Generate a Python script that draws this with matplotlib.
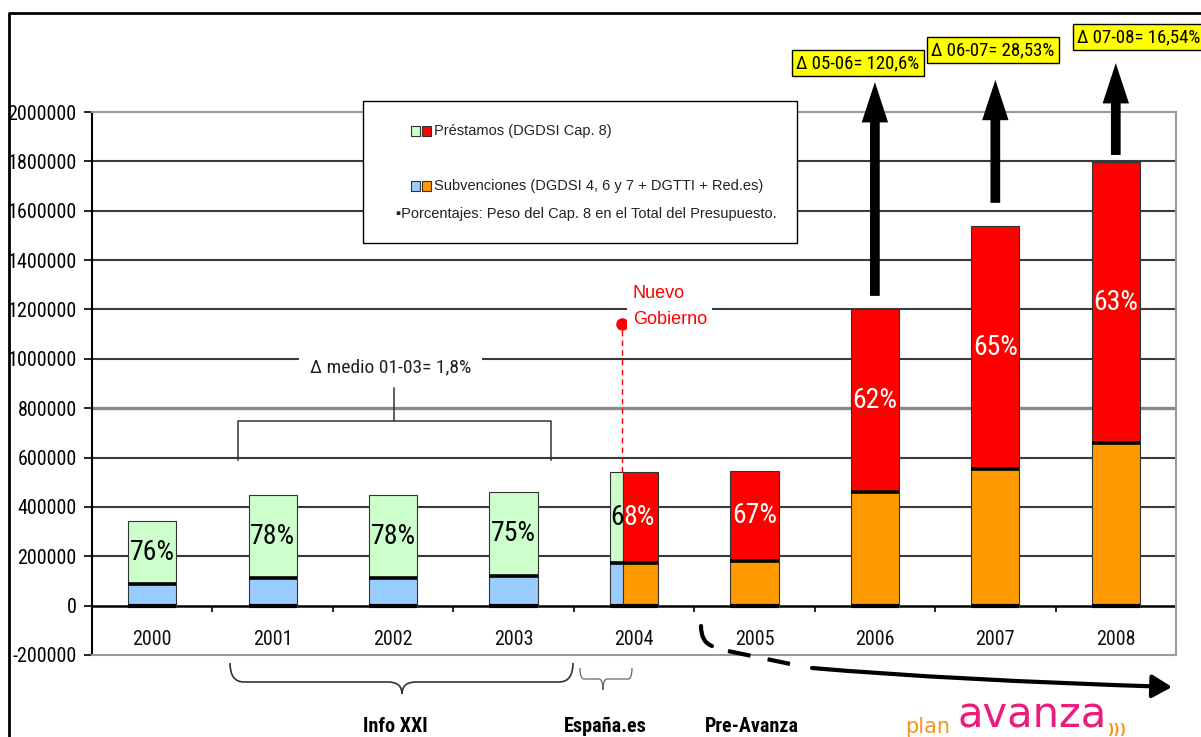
import matplotlib
matplotlib.use('Agg')
import matplotlib.pyplot as plt
import matplotlib.font_manager as fm
import numpy as np
from matplotlib.patches import Rectangle, FancyArrowPatch, PathPatch
from matplotlib.path import Path

W, H = 1201, 737

# ---------------- data ----------------
years = ['2000', '2001', '2002', '2003', '2004', '2005', '2006', '2007', '2008']
subvenciones = [88000, 113000, 110000, 121000, 174000, 182000, 459000, 553000, 660000]
prestamos = [255000, 336000, 339000, 340000, 368000, 365000, 741000, 985000, 1138000]
pct_labels = ['76%', '78%', '78%', '75%', '68%', '67%', '62%', '65%', '63%']
yticks = list(range(-200000, 2000001, 200000))

delta_years = ['2006', '2007', '2008']
delta_labels = ['\u0394 05-06= 120,6%', '\u0394 06-07= 28,53%', '\u0394 07-08= 16,54%']
arrow_tail = [1255000, 1632000, 1826000]
arrow_head = [2121000, 2130000, 2198000]

avg_label = '\u0394 medio 01-03= 1,8%'
gov_label = 'Nuevo\nGobierno'
legend_prestamos = 'Pr\u00e9stamos (DGDSI Cap. 8)'
legend_subv = 'Subvenciones (DGDSI 4, 6 y 7 + DGTTI + Red.es)'
legend_note = '\u25aaPorcentajes: Peso del Cap. 8 en el Total del Presupuesto.'
periods = ['Info XXI', 'Espa\u00f1a.es', 'Pre-Avanza']

# ---------------- fonts ----------------
def _w(f):
    try:
        return int(f.weight)
    except Exception:
        return 700 if 'bold' in str(f.weight).lower() else 400


def find_narrow(bold=False):
    prefs = ['Liberation Sans Narrow', 'Arial Narrow', 'Roboto Condensed', 'Open Sans Condensed',
             'Noto Sans Condensed', 'DejaVu Sans Condensed']
    cands = []
    for f in fm.fontManager.ttflist:
        nm = f.name
        st = str(f.stretch).lower()
        narrow = ('Narrow' in nm or 'Condensed' in nm or 'condensed' in st
                  or 'Condensed' in f.fname or 'Narrow' in f.fname)
        if not narrow or 'italic' in str(f.style).lower() or 'Oblique' in f.fname or 'Italic' in f.fname:
            continue
        w = _w(f)
        if bold and w < 600:
            continue
        if not bold and not (350 <= w <= 500):
            continue
        rank = len(prefs)
        for k, p in enumerate(prefs):
            if p.lower() in nm.lower() or p.replace(' ', '').lower() in f.fname.replace(' ', '').lower():
                rank = k
                break
        if 'DejaVuSansCondensed' in f.fname.replace('-', ''):
            rank = min(rank, len(prefs) - 1)
        cands.append((rank, f.fname))
    if cands:
        cands.sort()
        return fm.FontProperties(fname=cands[0][1]), True
    return fm.FontProperties(family=['Liberation Sans', 'DejaVu Sans'],
                             weight='bold' if bold else 'normal'), False


NARROW_FP, HAVE_NARROW = find_narrow(False)
NARROW_B_FP, _ = find_narrow(True)
SCALE = 1.0 if HAVE_NARROW else 0.85
SANS = ['Liberation Sans', 'DejaVu Sans']


def nfp(size, bold=False):
    fp = (NARROW_B_FP if bold else NARROW_FP).copy()
    fp.set_size(size * SCALE)
    return fp


# ---------------- style ----------------
OLD_P, OLD_S = '#CCFFCC', '#99CCFF'
NEW_P, NEW_S = '#FF0000', '#FF9900'
TRANSITION = 4          # index of the split bar (2004)
SPLIT_FRAC = 0.28       # share of the 2004 bar drawn in old colours
BW = 0.4
PCT_SIZE = 20

fig = plt.figure(figsize=(W / 100, H / 100), dpi=100)
ax = fig.add_axes([92 / W, 1 - 655 / H, (1176 - 92) / W, (655 - 112) / H])
n = len(years)
ax.set_xlim(-0.5, n - 0.5)
ax.set_ylim(-200000, 2000000)

for v in yticks:
    if v in (-200000, 2000000, 0):
        continue
    if v == 800000:
        ax.axhline(v, color='#8a8a8a', lw=2.4, zorder=0)
    else:
        ax.axhline(v, color='#3a3a3a', lw=1.5, zorder=0)
ax.axhline(0, color='black', lw=1.8, zorder=1)

ax.set_yticks(yticks)
ax.set_yticklabels([str(v) for v in yticks])
for lab in ax.get_yticklabels():
    lab.set_fontproperties(nfp(14.5))
ax.tick_params(axis='y', direction='out', length=6, width=1.2, pad=5, colors='black')
ax.set_xticks([])
for s in ('top', 'right', 'bottom'):
    ax.spines[s].set_color('#9a9a9a')
    ax.spines[s].set_linewidth(1.5)
ax.spines['left'].set_color('black')
ax.spines['left'].set_linewidth(1.5)

ax.vlines(np.arange(0.5, n, 1.0), -25000, 0, color='black', lw=1.2, zorder=2)

for i, yr in enumerate(years):
    ax.text(i, -138000, yr, ha='center', va='center', fontproperties=nfp(14.5), color='#111')

ec = dict(edgecolor='#333333', linewidth=0.8, zorder=3)
for i in range(n):
    s, p = subvenciones[i], prestamos[i]
    label_y = s + p / 2
    if i < TRANSITION:
        ax.bar(i, s, BW, color=OLD_S, **ec)
        ax.bar(i, p, BW, bottom=s, color=OLD_P, **ec)
        ax.text(i, label_y, pct_labels[i], ha='center', va='center', fontproperties=nfp(PCT_SIZE),
                color='black', zorder=6)
    elif i == TRANSITION:
        left = i - BW / 2
        wl = BW * SPLIT_FRAC
        wr = BW - wl
        ax.bar(left, s, wl, align='edge', color=OLD_S, **ec)
        ax.bar(left, p, wl, bottom=s, align='edge', color=OLD_P, **ec)
        ax.bar(left + wl, s, wr, align='edge', color=NEW_S, **ec)
        ax.bar(left + wl, p, wr, bottom=s, align='edge', color=NEW_P, **ec)
        lab = pct_labels[i]
        ax.text(left + wl, label_y, lab[:1], ha='right', va='center', fontproperties=nfp(PCT_SIZE),
                color='black', zorder=6)
        ax.text(left + wl, label_y, lab[1:], ha='left', va='center', fontproperties=nfp(PCT_SIZE),
                color='white', zorder=6)
    else:
        ax.bar(i, s, BW, color=NEW_S, **ec)
        ax.bar(i, p, BW, bottom=s, color=NEW_P, **ec)
        ax.text(i, label_y, pct_labels[i], ha='center', va='center', fontproperties=nfp(PCT_SIZE),
                color='white', zorder=6)
    ax.hlines(s, i - BW / 2, i + BW / 2, color='black', lw=2.6, zorder=4)
    ax.hlines(0, i - BW / 2, i + BW / 2, color='black', lw=3, zorder=4)

for yr, t0, t1 in zip(delta_years, arrow_tail, arrow_head):
    i = years.index(yr)
    arr = FancyArrowPatch((i, t0), (i, t1),
                          arrowstyle='simple,head_length=29,head_width=19,tail_width=7',
                          mutation_scale=1, fc='black', ec='black', lw=0,
                          shrinkA=0, shrinkB=0, clip_on=False, zorder=7,
                          transform=ax.transData)
    ax.add_patch(arr)

bx0, bx1, bxc = 0.714, 3.31, 2.01
ax.plot([bx0, bx0, bx1, bx1], [591000, 749000, 749000, 591000], color='#333', lw=1.1, zorder=5)
ax.plot([bxc, bxc], [749000, 883000], color='#333', lw=1.1, zorder=5)
ax.text(1.98, 966000, avg_label, ha='center', va='center', fontproperties=nfp(14),
        color='#222', zorder=6,
        bbox=dict(boxstyle='square,pad=0.55', fc='white', ec='none'))

gx = 3.90
ax.plot([gx, gx], [542000, 1142000], color='red', lw=1, ls=(0, (4, 3)), zorder=5)
ax.plot([gx], [1142000], 'o', color='red', ms=8, zorder=6)
ax.text(3.99, 1212000, gov_label, ha='left', va='center', fontfamily=SANS, fontsize=13,
        color='red', linespacing=1.75, zorder=6,
        bbox=dict(boxstyle='square,pad=0.3', fc='white', ec='none'))

# ---------------- overlay in pixel coords ----------------
ov = fig.add_axes([0, 0, 1, 1], zorder=5)
ov.set_xlim(0, W)
ov.set_ylim(H, 0)
ov.axis('off')
ov.patch.set_alpha(0)

ov.plot([9, 9, W + 5], [H + 5, 13, 13], color='black', lw=2, solid_capstyle='butt')

ov.add_patch(Rectangle((363, 101), 434, 142, fc='white', ec='black', lw=1))
for (c1, c2), yy, txt in [((OLD_P, NEW_P), 131, legend_prestamos), ((OLD_S, NEW_S), 186, legend_subv)]:
    ov.add_patch(Rectangle((411, yy - 5), 9, 10, fc=c1, ec='#333', lw=0.8))
    ov.add_patch(Rectangle((422, yy - 5), 9, 10, fc=c2, ec='#333', lw=0.8))
    ov.text(434, yy, txt, ha='left', va='center', fontfamily=SANS, fontsize=10.5, color='#222')
ov.text(396, 214, legend_note, ha='left', va='center', fontfamily=SANS, fontsize=10.5, color='#222')

for (cx, cy), txt in zip([(858, 63), (993, 50), (1139, 37)], delta_labels):
    ov.text(cx, cy, txt, ha='center', va='center', fontproperties=nfp(13.5), color='black',
            bbox=dict(boxstyle='square,pad=0.22', fc='#FFFF00', ec='black', lw=1))


def brace(x1, x2, tip, ytop, ymid, ytip, r, lw, color):
    verts = [(x1, ytop), (x1, ymid), (x1 + r, ymid), (tip - r, ymid), (tip, ymid), (tip, ytip),
             (x2, ytop), (x2, ymid), (x2 - r, ymid), (tip + r, ymid), (tip, ymid), (tip, ytip)]
    codes = [Path.MOVETO, Path.CURVE3, Path.CURVE3, Path.LINETO, Path.CURVE3, Path.CURVE3] * 2
    ov.add_patch(PathPatch(Path(verts, codes), fc='none', ec=color, lw=lw))


brace(230, 573, 402, 663, 682, 694, 14, 1.2, '#333')
brace(580, 632, 603, 668, 679, 690, 4, 0.9, '#666')

hook = Path([(701, 626), (701, 642), (712, 646)], [Path.MOVETO, Path.CURVE3, Path.CURVE3])
ov.add_patch(PathPatch(hook, fc='none', ec='black', lw=3, capstyle='round'))
ov.plot([728, 800], [651, 666], color='black', lw=3, dashes=(5.5, 4.2), solid_capstyle='butt')
arc = Path([(812, 668), (950, 680), (1172, 687)], [Path.MOVETO, Path.CURVE3, Path.CURVE3])
ov.add_patch(FancyArrowPatch(path=arc, arrowstyle='-|>,head_length=0.6,head_width=0.35',
                             mutation_scale=20, color='black', lw=3))

for cx, txt in zip([395, 605, 752], periods):
    ov.text(cx, 727, txt, ha='center', va='center', fontproperties=nfp(14.5, bold=True), color='black')

ov.text(905, 737, 'plan', ha='left', va='bottom', fontfamily=['DejaVu Sans'], fontsize=15,
        color='#F7941D')
ov.text(958, 737, 'avanza', ha='left', va='bottom', fontfamily=['DejaVu Sans'], fontsize=30,
        color='#EC1C7C')
ov.text(1108, 737, ')))', ha='left', va='bottom', fontfamily=['DejaVu Sans'], fontsize=10,
        color='#F7941D', fontweight='bold')

fig.savefig('out.png', dpi=100)
